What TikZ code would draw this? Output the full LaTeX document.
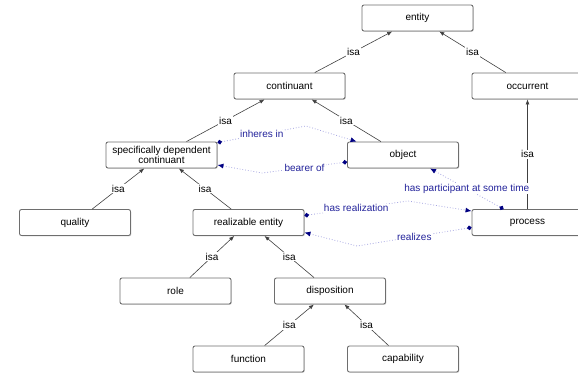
\documentclass[tikz,border=0pt]{standalone}
\usepackage{fontspec}
\setmainfont{Liberation Sans}
\usetikzlibrary{arrows.meta,calc,shadows}
\definecolor{relblue}{RGB}{35,35,155}
\definecolor{reldot}{RGB}{0,0,130}
\definecolor{relline}{RGB}{165,165,225}
\definecolor{boxline}{RGB}{110,110,110}
\tikzset{
  term/.style={draw=boxline, line width=0.9pt, rounded corners=2pt, fill=white,
    minimum width=111pt, minimum height=26pt, inner sep=1pt, align=center,
    font=\fontsize{10}{10.5}\selectfont,
    drop shadow={shadow xshift=0.8pt, shadow yshift=-0.8pt, opacity=0.35}},
  isa/.style={draw=black!75, line width=0.6pt, -{Latex[length=5pt,width=4pt]}},
  isalabel/.style={fill=white, inner sep=1pt, font=\fontsize{10}{10}\selectfont},
  rel/.style={draw=relline, line width=0.8pt, dotted,
    {Circle[length=4.5pt,color=reldot]}-{Latex[length=6pt,width=5pt,color=reldot]}},
  rellabel/.style={fill=white, inner sep=1pt, text=relblue, font=\fontsize{10}{10}\selectfont}
}
\begin{document}
\begin{tikzpicture}[x=1pt,y=-1pt]
    \useasboundingbox (0,0) rectangle (578,375);
    % terms
    \node[term] (entity) at (417.5,18) {entity};
    \node[term] (continuant) at (289.5,86) {continuant};
    \node[term] (occurrent) at (527.5,86) {occurrent};
    \node[term] (sdc) at (161.5,155) {specifically dependent\\continuant};
    \node[term] (object) at (403,155) {object};
    \node[term] (quality) at (75,222.5) {quality};
    \node[term] (realizable) at (248.5,222.5) {realizable entity};
    \node[term] (process) at (527.5,222.5) {process};
    \node[term] (role) at (175.5,291) {role};
    \node[term] (disposition) at (330,291) {disposition};
    \node[term] (function) at (248.5,359) {function};
    \node[term] (capability) at (403,359) {capability};
    % isa links
    \draw[isa] (continuant) -- node[isalabel] {isa} (entity);
    \draw[isa] (occurrent) -- node[isalabel] {isa} (entity);
    \draw[isa] (sdc) -- node[isalabel] {isa} (continuant);
    \draw[isa] (object) -- node[isalabel] {isa} (continuant);
    \draw[isa] (process) -- node[isalabel] {isa} (occurrent);
    \draw[isa] (quality) -- node[isalabel] {isa} (sdc);
    \draw[isa] (realizable) -- node[isalabel] {isa} (sdc);
    \draw[isa] (role) -- node[isalabel] {isa} (realizable);
    \draw[isa] (disposition) -- node[isalabel] {isa} (realizable);
    \draw[isa] (function) -- node[isalabel] {isa} (disposition);
    \draw[isa] (capability) -- node[isalabel] {isa} (disposition);
    % relations
    \draw[rel] ($(sdc.north east)+(0,1)$) -- node[rellabel] {inheres in} (306,126) -- ($(object.north west)+(9.5,0)$);
    \draw[rel] ($(object.west)+(0,7)$) -- node[rellabel] {bearer of} (262,173) -- ($(sdc.east)+(0,10)$);
    \draw[rel] ($(process.north west)+(32,0)$) -- node[rellabel] {has participant at some time} ($(object.south)+(27,0)$);
    \draw[rel] ($(realizable.east)+(0,-7)$) -- node[rellabel] {has realization} (408,201) -- ($(process.north west)+(0,2)$);
    \draw[rel] ($(process.west)+(0,5)$) -- node[rellabel] {realizes} (357,246) -- ($(realizable.east)+(0,10)$);
\end{tikzpicture}
\end{document}
